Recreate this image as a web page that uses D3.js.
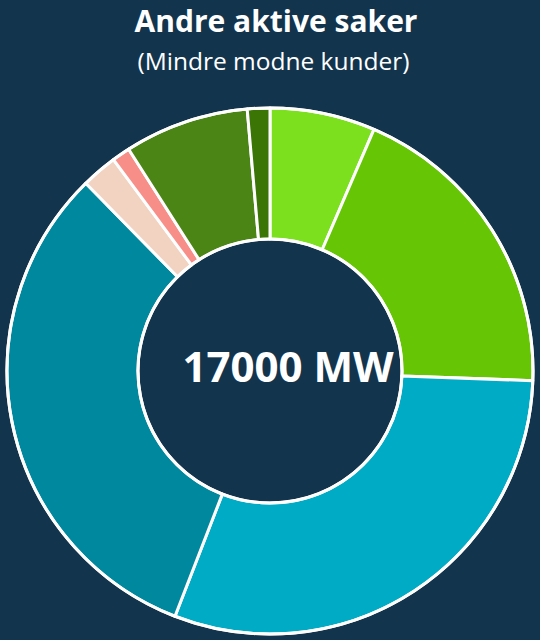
<!DOCTYPE html>
<html><head><meta charset="utf-8">
<script src="https://cdn.jsdelivr.net/npm/d3@7"></script>
<style>html,body{margin:0;padding:0;background:#12344D;}svg{display:block;}</style>
</head><body>
<svg id="c" width="540" height="640"></svg>
<script>
const categories = ["A","B","C","D","E","F","G","H"];
const values = [1100, 3250, 5150, 5400, 375, 190, 1300, 235];
const colors = ["#7CE01E","#66C504","#00ABC6","#00889F","#F2D3C2","#F78E88","#4A8515","#3A7506"];
const title = "Andre aktive saker";
const subtitle = "(Mindre modne kunder)";
const centerLabel = d3.sum(values) + " MW";

const svg = d3.select("#c");
svg.append("rect").attr("width",540).attr("height",640).attr("fill","#12344D");
const cx = 270, cy = 371, rOut = 263, rIn = 132;
const data = categories.map((c,i)=>({c, v: values[i], col: colors[i]}));
const pie = d3.pie().value(d=>d.v).sort(null);
const arc = d3.arc().innerRadius(rIn).outerRadius(rOut);
const g = svg.append("g").attr("transform",`translate(${cx},${cy})`);
g.selectAll("path").data(pie(data)).join("path")
  .attr("d",arc).attr("fill",d=>d.data.col)
  .attr("stroke","#fff").attr("stroke-width",3).attr("stroke-linejoin","round");
g.append("circle").attr("r",rOut).attr("fill","none").attr("stroke","#fff").attr("stroke-width",3);
g.append("circle").attr("r",rIn).attr("fill","none").attr("stroke","#fff").attr("stroke-width",3);
const font = "'Open Sans', Lato, sans-serif";
g.append("text").attr("text-anchor","middle").attr("x",18).attr("y",11)
  .attr("font-family",font).attr("font-weight","bold").attr("font-size",42)
  .attr("fill","#fff").text(centerLabel);
svg.append("text").attr("x",276).attr("y",32).attr("text-anchor","middle")
  .attr("font-family",font).attr("font-weight","bold").attr("font-size",30)
  .attr("fill","#fff").text(title);
svg.append("text").attr("x",273.5).attr("y",70).attr("text-anchor","middle")
  .attr("font-family",font).attr("font-size",24.5)
  .attr("fill","#fff").text(subtitle);
</script>
</body></html>
